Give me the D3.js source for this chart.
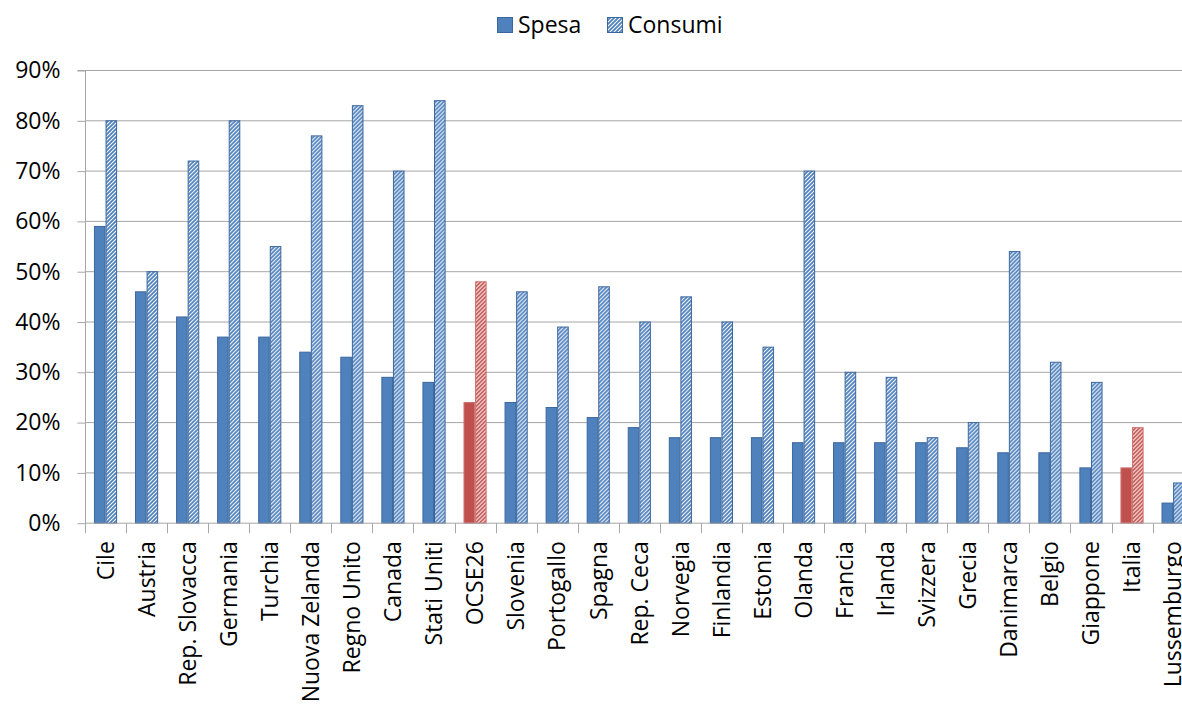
<!DOCTYPE html>
<html>
<head>
<meta charset="utf-8">
<script src="https://cdn.jsdelivr.net/npm/d3@7"></script>
<style>
  body { margin: 0; background: #fff; }
  svg { display: block; font-family: "Open Sans", sans-serif; }
</style>
</head>
<body>
<div id="chart"></div>
<script>
// data
const countries = ["Cile", "Austria", "Rep. Slovacca", "Germania", "Turchia", "Nuova Zelanda",
  "Regno Unito", "Canada", "Stati Uniti", "OCSE26", "Slovenia", "Portogallo", "Spagna",
  "Rep. Ceca", "Norvegia", "Finlandia", "Estonia", "Olanda", "Francia", "Irlanda",
  "Svizzera", "Grecia", "Danimarca", "Belgio", "Giappone", "Italia", "Lussemburgo"]
const spesa = [59, 46, 41, 37, 37, 34, 33, 29, 28, 24, 24, 23, 21, 19, 17, 17, 17, 16, 16, 16, 16, 15, 14, 14, 11, 11, 4]
const consumi = [80, 50, 72, 80, 55, 77, 83, 70, 84, 48, 46, 39, 47, 40, 45, 40, 35, 70, 30, 29, 17, 20, 54, 32, 28, 19, 8]
const highlighted = ["OCSE26", "Italia"]
const seriesNames = ["Spesa", "Consumi"]
const yTicks = [0, 10, 20, 30, 40, 50, 60, 70, 80, 90]

const width = 1182, height = 706
const margin = {left: 85, top: 70, bottom: 183}
const bandW = 41.06

const blue = "#4F81BD", blueEdge = "#3C679E"
const red = "#C0504D", redEdge = "#D07370"

const svg = d3.select("#chart").append("svg")
  .attr("width", width).attr("height", height)

//// hatch patterns for the "Consumi" series
const defs = svg.append("defs")
function hatch(id, color) {
  const p = defs.append("pattern")
    .attr("id", id).attr("patternUnits", "userSpaceOnUse")
    .attr("width", 4).attr("height", 4)
  p.append("rect").attr("width", 4).attr("height", 4).attr("fill", "#fff")
  p.append("path").attr("d", "M-1,1 L1,-1 M0,4 L4,0 M3,5 L5,3")
    .attr("stroke", color).attr("stroke-width", 1.8)
}
hatch("hatchBlue", blue)
hatch("hatchRed", red)

const x0 = d3.scaleBand().domain(countries)
  .range([margin.left, margin.left + bandW * countries.length])
const x1 = d3.scaleBand().domain(seriesNames)
  .range([x0.bandwidth() * 0.218, x0.bandwidth() * 0.782])
const y = d3.scaleLinear().domain([0, 90]).range([height - margin.bottom - 0.3, margin.top])

// gridlines
svg.append("g").selectAll("line").data(yTicks.slice(1)).join("line")
  .attr("x1", margin.left).attr("x2", width)
  .attr("y1", d => y(d) + 0.5).attr("y2", d => y(d) + 0.5)
  .attr("stroke", "#A6A6A6").attr("stroke-width", 1)

// bars
const rows = countries.map((c, i) => ({country: c, Spesa: spesa[i], Consumi: consumi[i]}))
const groups = svg.append("g").selectAll("g").data(rows).join("g")
  .attr("transform", d => `translate(${x0(d.country)},0)`)
groups.selectAll("rect").data(d => seriesNames.map(s => ({s, v: d[s], hl: highlighted.includes(d.country)})))
  .join("rect")
  .attr("x", d => x1(d.s) + 0.5)
  .attr("width", x1.bandwidth() - 1)
  .attr("y", d => y(d.v) + 0.5)
  .attr("height", d => y(0) - y(d.v))
  .attr("fill", d => d.s == "Spesa" ? (d.hl ? red : blue) : (d.hl ? "url(#hatchRed)" : "url(#hatchBlue)"))
  .attr("stroke", d => d.hl ? redEdge : blueEdge)
  .attr("stroke-width", 1)

// y axis
const yAxis = svg.append("g")
  .attr("transform", `translate(${margin.left + 0.5},0.5)`)
  .call(d3.axisLeft(y).tickValues(yTicks).tickFormat(d => d + "%").tickSize(8).tickPadding(17))
yAxis.select(".domain").attr("stroke", "#A6A6A6").attr("d", `M-8,${y(90)}H0V${y(0)}`)
yAxis.selectAll(".tick line").attr("stroke", "#A6A6A6")
yAxis.selectAll("text").attr("font-size", 23).attr("font-family", "Open Sans").attr("fill", "#000")

// x axis
const xAxis = svg.append("g")
  .attr("transform", `translate(0,${y(0) + 0.5})`)
  .call(d3.axisBottom(x0).tickSize(0))
xAxis.select(".domain").attr("stroke", "#A6A6A6")
  .attr("d", `M${margin.left},0H${width}`)
xAxis.selectAll(".tick text")
  .attr("transform", "rotate(-90)")
  .attr("x", -18).attr("y", 0).attr("dy", "0.36em")
  .style("text-anchor", "end")
  .attr("font-size", 23).attr("font-family", "Open Sans").attr("fill", "#000")
// tick marks at the band edges
xAxis.append("g").selectAll("line").data(countries).join("line")
  .attr("x1", d => Math.round(x0(d)) + 0.5).attr("x2", d => Math.round(x0(d)) + 0.5)
  .attr("y1", 0).attr("y2", 10)
  .attr("stroke", "#A6A6A6")

// legend
const legend = svg.append("g").attr("font-size", 23)
const legendX = [497, 607]
seriesNames.forEach((s, i) => {
  legend.append("rect")
    .attr("x", legendX[i] + 0.5).attr("y", 17.5).attr("width", 15).attr("height", 15)
    .attr("fill", i == 0 ? blue : "url(#hatchBlue)")
    .attr("stroke", blueEdge)
  legend.append("text")
    .attr("x", legendX[i] + 21).attr("y", 33)
    .text(s)
})
</script>
</body>
</html>
